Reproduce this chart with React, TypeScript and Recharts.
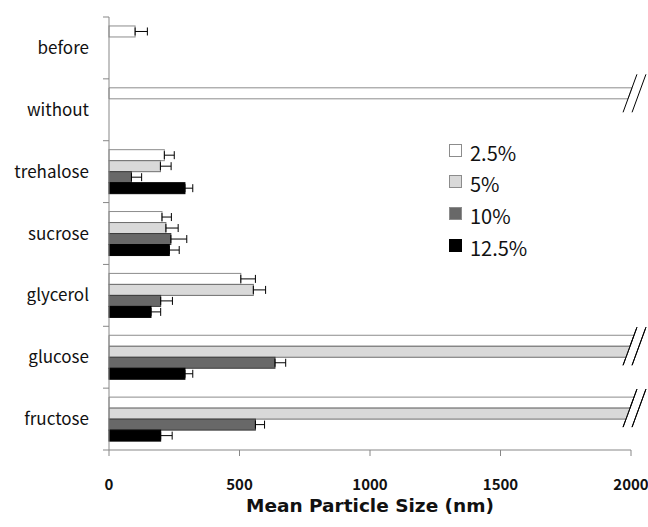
import { BarChart, Bar, XAxis, YAxis, ErrorBar, Legend } from 'recharts';

const categories = ['before', 'without', 'trehalose', 'sucrose', 'glycerol', 'glucose', 'fructose'];
const seriesNames = ['2.5%', '5%', '10%', '12.5%'];

// mean particle size (nm); 2000 = bar runs off the axis (broken)
const size25 = [100, 2000, 212, 203, 505, 2000, 2000];
const size5 = [null, null, 197, 218, 553, 2000, 2000];
const size10 = [null, null, 86, 237, 198, 636, 561];
const size125 = [null, null, 291, 231, 161, 291, 198];

// upper error (nm)
const err25 = [47, null, 38, 36, 56, null, null];
const err5 = [null, null, 41, 47, 47, null, null];
const err10 = [null, null, 39, 61, 45, 41, 35];
const err125 = [null, null, 30, 38, 37, 30, 44];

const xTicks = [0, 500, 1000, 1500, 2000];
const axisMax = 2000;

const sizes = [size25, size5, size10, size125];
const errs = [err25, err5, err10, err125];
const fills = ['#ffffff', '#d9d9d9', '#686868', '#000000'];
const strokes = ['#8c8c8c', '#6e6e6e', '#3c3c3c', '#000000'];

const FONT = '"Noto Sans CJK KR", "Noto Sans", sans-serif';
const AXIS = '#878787';

const data = categories.map((name, i) => {
  const row: any = { name };
  sizes.forEach((s, k) => {
    row['s' + k] = s[i];
    row['e' + k] = errs[k][i] == null ? null : [0, errs[k][i]];
  });
  return row;
});

// bar with a "//" break mark when it runs past the axis max
const makeShape = (k: number) => (props: any) => {
  const { x, y, width, height, payload } = props;
  if (width == null || height == null) return <g />;
  const broken = payload['s' + k] >= axisMax;
  if (!broken) {
    return <rect x={x} y={y} width={width} height={height} fill={fills[k]} stroke={strokes[k]} strokeWidth={1} />;
  }
  let n = 0;
  while (n < 4 && payload['s' + n] >= axisMax) n++;
  const top = y - k * height;
  const cy = top + (n * height) / 2;
  const xe = x + width - 1;
  const slope = 15 / 41;
  const xa = (yy: number) => xe + (cy - yy) * slope;
  const half = 19;
  const d = `M${x},${y} L${xa(y)},${y} L${xa(y + height)},${y + height} L${x},${y + height} Z`;
  return (
    <g>
      <path d={d} fill={fills[k]} stroke={strokes[k]} strokeWidth={1} />
      <line x1={xa(cy + half)} y1={cy + half} x2={xa(cy - half)} y2={cy - half} stroke="#000" strokeWidth={1} />
      <line x1={xa(cy + half) + 9} y1={cy + half} x2={xa(cy - half) + 9} y2={cy - half} stroke="#000" strokeWidth={1} />
    </g>
  );
};

function CategoryTick(props: any) {
  const { x, y, payload, index, visibleTicksCount, height } = props;
  const half = height / visibleTicksCount / 2;
  return (
    <g>
      <text x={x - 20} y={y} dy={6} textAnchor="end" fontSize={17} fill="#111" fontFamily={FONT}>
        {payload.value}
      </text>
      <line x1={x - 6} x2={x} y1={y - half} y2={y - half} stroke={AXIS} />
      {index === visibleTicksCount - 1 && <line x1={x - 6} x2={x} y1={y + half} y2={y + half} stroke={AXIS} />}
    </g>
  );
}

function LegendBox() {
  return (
    <div style={{ fontFamily: FONT }}>
      {seriesNames.map((n, k) => (
        <div key={n} style={{ display: 'flex', alignItems: 'flex-end', height: 31.7 }}>
          <div style={{ width: 11, height: 11, background: fills[k], border: `1px solid ${strokes[k] === '#000000' ? '#000' : '#8c8c8c'}`, marginBottom: 8 }} />
          <span style={{ fontSize: 20, marginLeft: 8, color: '#111', lineHeight: '20px', marginBottom: 2 }}>{n}</span>
        </div>
      ))}
    </div>
  );
}

export default function App() {
  return (
    <div style={{ position: 'absolute', left: 0, top: 0, background: '#fff' }}>
      <BarChart
        width={648}
        height={527}
        data={data}
        layout="vertical"
        barCategoryGap="14.5%"
        barGap={0}
        margin={{ top: 17, right: 17, left: 9, bottom: 7 }}
      >
        <XAxis
          type="number"
          domain={[0, axisMax]}
          ticks={xTicks}
          stroke={AXIS}
          tickSize={6}
          tickMargin={23}
          height={70}
          tick={{ fill: '#111', fontSize: 15, fontFamily: FONT, fontWeight: 600 }}
          label={{ value: 'Mean Particle Size (nm)', position: 'insideBottom', offset: 8, fill: '#111', fontSize: 18.5, fontWeight: 700, fontFamily: '"DejaVu Sans", sans-serif' }}
        />
        <YAxis
          type="category"
          dataKey="name"
          width={100}
          stroke={AXIS}
          tickLine={false}
          tickSize={0}
          tickMargin={0}
          interval={0}
          tick={<CategoryTick />}
        />
        <Legend layout="vertical" align="center" verticalAlign="middle" content={<LegendBox />} wrapperStyle={{ left: 449, top: 133, width: 120 }} />
        {seriesNames.map((n, k) => (
          <Bar key={n} dataKey={'s' + k} name={n} fill={fills[k]} stroke={strokes[k]} shape={makeShape(k)} isAnimationActive={false}>
            <ErrorBar dataKey={'e' + k} direction="x" width={4} stroke="#000" strokeWidth={1} />
          </Bar>
        ))}
      </BarChart>
    </div>
  );
}
